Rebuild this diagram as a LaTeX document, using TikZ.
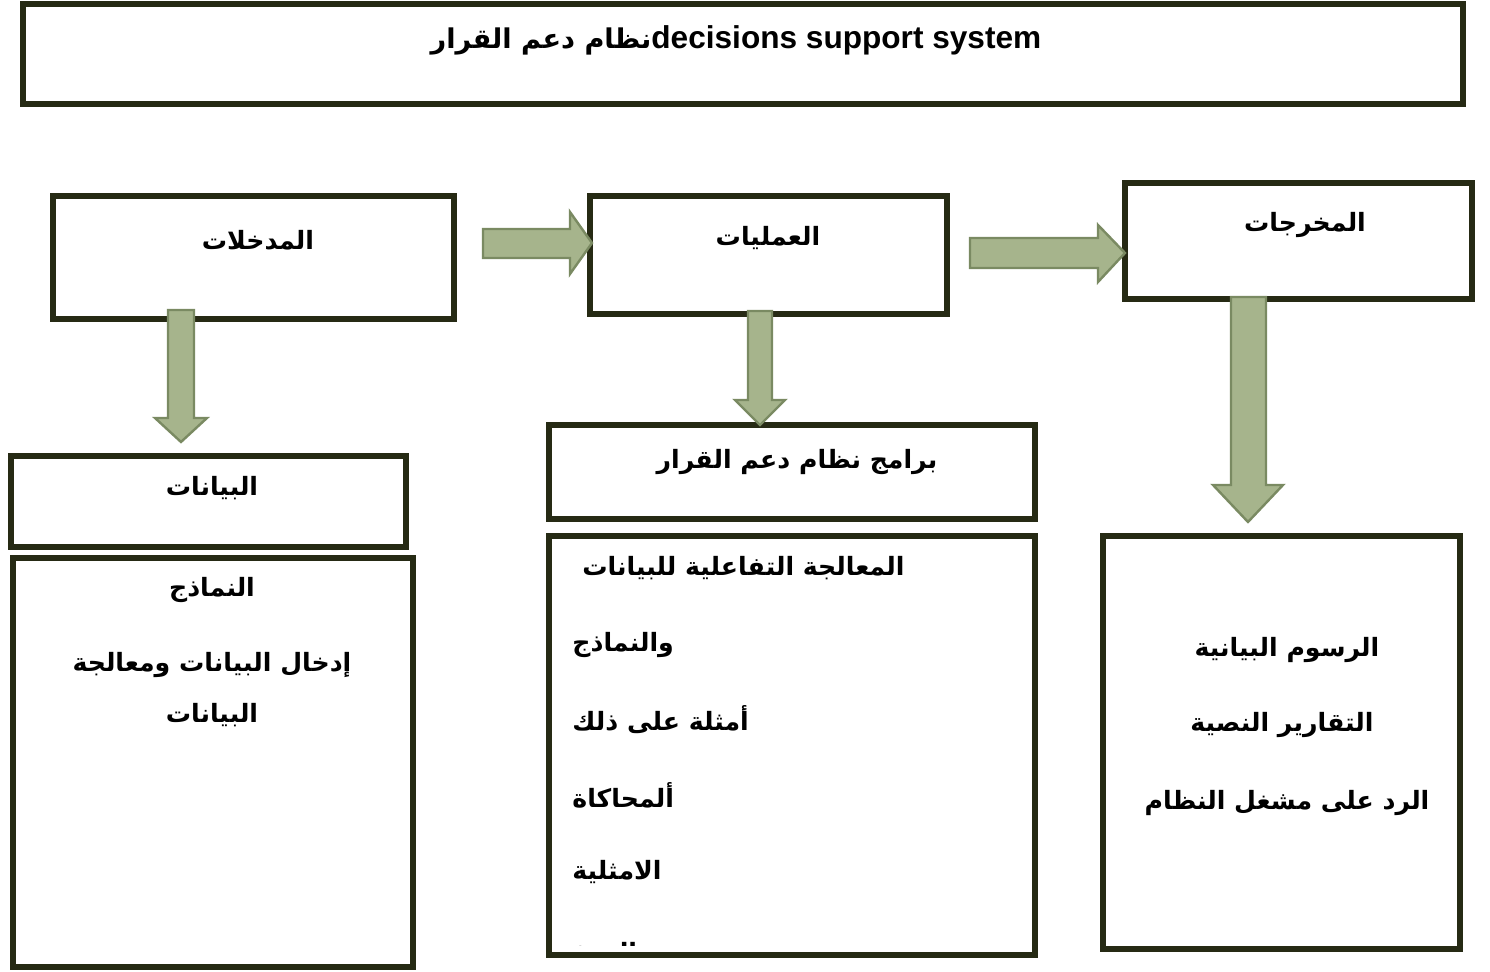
\documentclass[tikz,border=0pt]{standalone}
\usepackage{fontspec}
\setmainfont{Liberation Sans}
\newfontfamily\arfont[Script=Arabic]{DejaVu Sans}
\TeXXeTstate=1
\usetikzlibrary{positioning}
\definecolor{frame}{HTML}{262A14}
\definecolor{arrowfill}{HTML}{A6B48C}
\definecolor{arrowline}{HTML}{7A8A62}
\tikzset{
  box/.style={draw=frame, line width=3pt, fill=white, inner sep=0pt},
  lbl/.style={font=\arfont\bfseries\fontsize{12.6}{15}\selectfont, inner sep=0pt},
  blockarrow/.style={fill=arrowfill, draw=arrowline, line width=1.2pt, line join=miter}
}
\newcommand{\ar}[1]{\beginR #1\endR}
\begin{document}
\begin{tikzpicture}[x=0.5pt, y=-0.5pt]
\useasboundingbox (0,0) rectangle (1490,972);

% title frame
\node[box, minimum width=720pt, minimum height=50pt] (title) at (743,54) {};
\node[inner sep=0pt, font=\bfseries\fontsize{15.8}{17}\selectfont] (titletext) at (736,40)
  {{\arfont\fontsize{13.6}{17}\selectfont\ar{نظام دعم القرار}}decisions support system};

% upper row: inputs, processes, outputs
\node[box, minimum width=200.5pt, minimum height=61.5pt] (inputs) at (253.5,257.5) {};
\node[lbl] (inputstext) at (258,240) {\ar{المدخلات}};
\node[box, minimum width=178.5pt, minimum height=59pt] (process) at (768.5,255) {};
\node[lbl] (processtext) at (768,238) {\ar{العمليات}};
\node[box, minimum width=173.5pt, minimum height=58pt] (outputs) at (1298.5,241) {};
\node[lbl] (outputstext) at (1305,225) {\ar{المخرجات}};

% left column
\node[box, minimum width=197.5pt, minimum height=45.5pt] (data) at (208.5,501.5) {};
\node[lbl] (datatext) at (212,488) {\ar{البيانات}};
\node[box, minimum width=200pt, minimum height=204.5pt] (models) at (213,762.5) {};
\node[lbl] (m1) at (212,590) {\ar{النماذج}};
\node[lbl] (m2) at (212,665) {\ar{إدخال البيانات ومعالجة}};
\node[lbl] (m3) at (212,715) {\ar{البيانات}};

% middle column
\node[box, minimum width=243pt, minimum height=47pt] (dss) at (792,472) {};
\node[lbl] (dsstext) at (797,462) {\ar{برامج نظام دعم القرار}};
\node[box, minimum width=243pt, minimum height=209.5pt] (interactive) at (792,745.5) {};
\node[lbl, anchor=west] (i1) at (582,568) {\ar{المعالجة التفاعلية للبيانات}};
\node[lbl, anchor=west] (i2) at (572,645) {\ar{والنماذج}};
\node[lbl, anchor=west] (i3) at (572,720) {\ar{أمثلة على ذلك}};
\node[lbl, anchor=west] (i4) at (572,795) {\ar{ألمحاكاة}};
\node[lbl, anchor=west] (i5) at (572,872) {\ar{الامثلية}};
\begin{scope}
  % last line runs past the frame and is cut off
  \clip (560,900) rectangle (1020,946);
  \node[lbl, anchor=west] (i6) at (572,955) {\ar{التنبؤ}};
\end{scope}

% right column
\node[box, minimum width=178.5pt, minimum height=206.5pt] (reports) at (1281.5,742.5) {};
\node[lbl] (r1) at (1287,650) {\ar{الرسوم البيانية}};
\node[lbl] (r2) at (1282,725) {\ar{التقارير النصية}};
\node[lbl] (r3) at (1287,803) {\ar{الرد على مشغل النظام}};

% block arrows
\draw[blockarrow] (483,229) -- (570,229) -- (570,212) -- (592,243) -- (570,274) -- (570,258) -- (483,258) -- cycle;
\draw[blockarrow] (970,238) -- (1098,238) -- (1098,225) -- (1125,253) -- (1098,282) -- (1098,268) -- (970,268) -- cycle;
\draw[blockarrow] (168,310) -- (168,418) -- (155,418) -- (181,442) -- (207,418) -- (194,418) -- (194,310) -- cycle;
\draw[blockarrow] (748,311) -- (748,400) -- (735,400) -- (760,425) -- (785,400) -- (772,400) -- (772,311) -- cycle;
\draw[blockarrow] (1231,297) -- (1231,485) -- (1213,485) -- (1248,522) -- (1283,485) -- (1266,485) -- (1266,297) -- cycle;
\end{tikzpicture}
\end{document}
